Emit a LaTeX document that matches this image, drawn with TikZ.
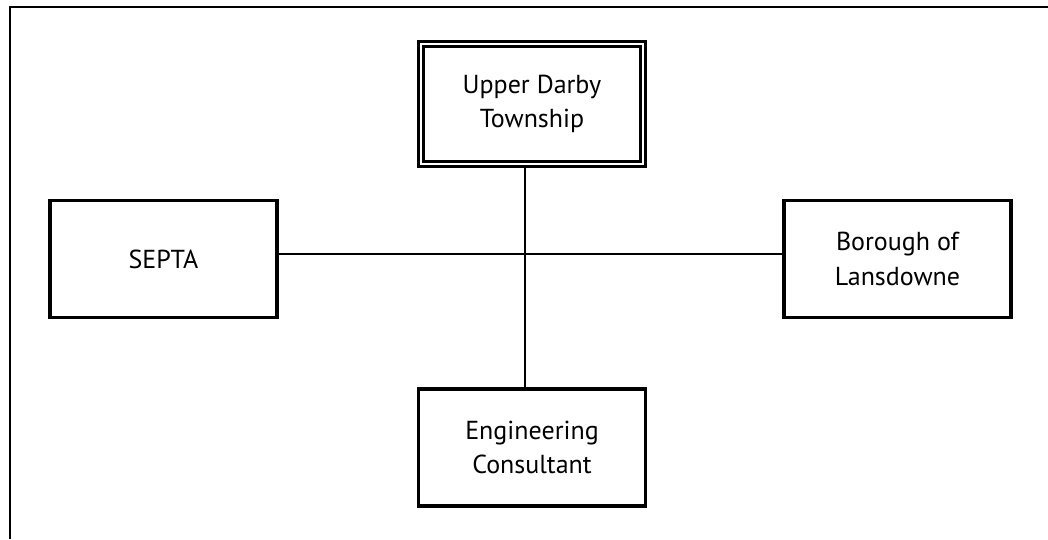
\documentclass[tikz,border=0pt]{standalone}
\usepackage{fontspec}
\setmainfont{PT Sans}
\begin{document}
\begin{tikzpicture}[x=0.75pt,y=-0.75pt,
  orgbox/.style={draw, line width=2.6pt, minimum width=170pt, minimum height=88pt,
    align=center, font=\fontsize{19.5}{26}\selectfont, inner sep=0pt},
  topbox/.style={orgbox, line width=2.25pt, double, double distance=1.5pt,
    minimum width=166.5pt, minimum height=90pt},
  link/.style={line width=1.3pt},
  frame/.style={line width=1.5pt}]
\useasboundingbox (0,0) rectangle (1048,539);
% page frame, open at the right and bottom
\coordinate (fa) at (1048,7);
\coordinate (fb) at (10,7);
\coordinate (fc) at (10,539);
\draw[frame] (fa) -- (fb) -- (fc);
% organisations
\node[topbox] (udt) at (532,104) {Upper Darby\\Township};
\node[orgbox] (septa) at (163.5,259) {SEPTA};
\node[orgbox] (bol) at (897.5,259) {Borough of\\Lansdowne};
\node[orgbox] (eng) at (532,447.5) {Engineering\\Consultant};
% connectors
\coordinate (hy) at (0,254);
\coordinate (vx) at (525,0);
\draw[link] (septa.east |- hy) -- (bol.west |- hy);
\draw[link] (udt.south -| vx) -- (eng.north -| vx);
\end{tikzpicture}
\end{document}
